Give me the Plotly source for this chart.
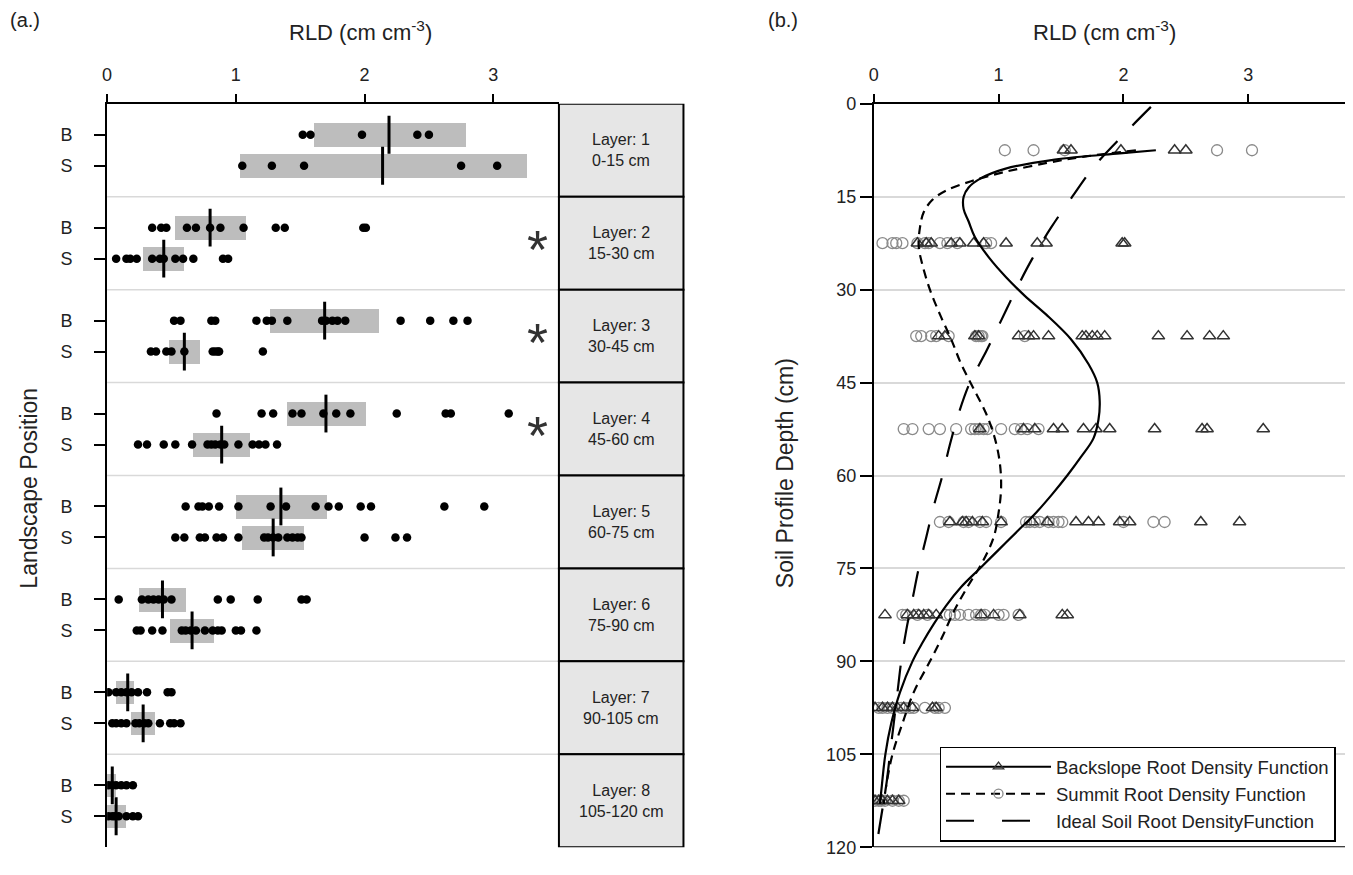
import plotly.graph_objects as go

# page is shown with the browser's default 8px body margin, so the figure is
# sized to fill the remaining window and all screen positions are offset by 8px.
SCREEN_W, SCREEN_H = 1353, 875
OFF = 8
W, H = SCREEN_W - OFF, SCREEN_H - OFF
FONT = "Liberation Sans, Arial, sans-serif"

# ---------------- data ----------------
layer_names = ["Layer: 1", "Layer: 2", "Layer: 3", "Layer: 4",
               "Layer: 5", "Layer: 6", "Layer: 7", "Layer: 8"]
layer_ranges = ["0-15 cm", "15-30 cm", "30-45 cm", "45-60 cm",
                "60-75 cm", "75-90 cm", "90-105 cm", "105-120 cm"]
layer_mid_depth = [7.5, 22.5, 37.5, 52.5, 67.5, 82.5, 97.5, 112.5]
significant_layers = [2, 3, 4]

backslope_rld = [
    [1.52, 1.58, 1.98, 2.41, 2.50],
    [0.35, 0.42, 0.46, 0.62, 0.69, 0.80, 0.88, 1.06, 1.31, 1.38, 1.99, 2.01],
    [0.52, 0.57, 0.81, 0.84, 1.16, 1.24, 1.28, 1.40, 1.67, 1.70, 1.75, 1.79, 1.85, 2.28, 2.51, 2.69, 2.80],
    [0.85, 1.20, 1.29, 1.44, 1.51, 1.68, 1.78, 1.89, 2.25, 2.63, 2.67, 3.12],
    [0.61, 0.71, 0.74, 0.79, 0.87, 1.02, 1.27, 1.39, 1.62, 1.72, 1.80, 1.97, 2.05, 2.62, 2.93],
    [0.09, 0.27, 0.32, 0.36, 0.40, 0.44, 0.50, 0.86, 0.96, 1.17, 1.51, 1.55],
    [0.01, 0.07, 0.11, 0.15, 0.19, 0.24, 0.31, 0.47, 0.50],
    [0.01, 0.04, 0.07, 0.11, 0.15, 0.20],
]
summit_rld = [
    [1.05, 1.28, 1.53, 2.75, 3.03],
    [0.07, 0.15, 0.18, 0.23, 0.35, 0.41, 0.44, 0.53, 0.59, 0.67, 0.90, 0.94],
    [0.34, 0.38, 0.46, 0.50, 0.60, 0.82, 0.84, 0.86, 0.87, 1.21],
    [0.24, 0.31, 0.44, 0.53, 0.66, 0.78, 0.81, 0.84, 0.88, 0.91, 1.02, 1.13, 1.18, 1.23, 1.32],
    [0.53, 0.60, 0.72, 0.76, 0.85, 0.90, 1.02, 1.22, 1.25, 1.29, 1.33, 1.40, 1.44, 1.48, 1.51, 2.00, 2.24, 2.33],
    [0.23, 0.26, 0.35, 0.43, 0.58, 0.61, 0.65, 0.69, 0.76, 0.82, 0.86, 0.89, 1.00, 1.04, 1.16],
    [0.04, 0.07, 0.11, 0.15, 0.22, 0.25, 0.29, 0.32, 0.41, 0.49, 0.52, 0.57],
    [0.01, 0.04, 0.06, 0.09, 0.15, 0.20, 0.24],
]

back_box_low = [1.61, 0.53, 1.27, 1.40, 1.00, 0.25, 0.07, 0.00]
back_box_high = [2.79, 1.08, 2.11, 2.01, 1.71, 0.61, 0.21, 0.07]
back_median = [2.19, 0.80, 1.69, 1.70, 1.35, 0.43, 0.16, 0.04]
summit_box_low = [1.03, 0.28, 0.48, 0.67, 1.05, 0.49, 0.19, 0.00]
summit_box_high = [3.26, 0.60, 0.72, 1.11, 1.53, 0.83, 0.37, 0.15]
summit_median = [2.14, 0.44, 0.60, 0.89, 1.29, 0.66, 0.28, 0.07]

back_fn_depth = [7.5, 8.0, 9.0, 10.5, 12, 13.5, 15, 17, 19, 21.5, 25, 28, 31, 34, 38, 42, 45, 48,
                 51, 54, 57, 60, 63, 66, 69, 72, 75, 78, 81, 84, 87, 90, 95, 100, 105, 110, 113]
back_fn_rld = [2.26, 1.97, 1.45, 1.05, 0.86, 0.76, 0.72, 0.72, 0.76, 0.81, 0.93, 1.06, 1.21, 1.38,
               1.58, 1.72, 1.79, 1.81, 1.80, 1.76, 1.66, 1.55, 1.43, 1.30, 1.15, 1.00, 0.85, 0.70,
               0.58, 0.48, 0.39, 0.31, 0.21, 0.14, 0.093, 0.065, 0.05]

summit_fn_depth = [7.5, 8.5, 9.5, 11, 12.5, 14, 15.5, 17.5, 20, 23, 26, 30, 34, 38, 42, 46, 50, 54,
                   58, 62, 66, 70, 74, 78, 82, 86, 90, 95, 100, 105, 110, 113]
summit_fn_rld = [2.10, 1.70, 1.40, 1.05, 0.78, 0.58, 0.47, 0.40, 0.37, 0.36, 0.39, 0.45, 0.53, 0.62,
                 0.70, 0.80, 0.90, 0.97, 1.01, 1.02, 1.00, 0.96, 0.87, 0.75, 0.64, 0.55, 0.45, 0.32,
                 0.23, 0.15, 0.10, 0.08]

ideal_fn_depth = [0.5, 5, 10, 15, 20, 25, 30, 35, 40, 45, 50, 55, 60, 65, 70, 75, 80, 85, 90, 95,
                  100, 105, 110, 115, 120]
ideal_fn_rld = [2.22, 2.00, 1.77, 1.59, 1.42, 1.27, 1.14, 1.02, 0.90, 0.77, 0.68, 0.61, 0.55, 0.48,
                0.42, 0.36, 0.31, 0.26, 0.22, 0.19, 0.16, 0.13, 0.10, 0.06, 0.02]

depth_ticks = [0, 15, 30, 45, 60, 75, 90, 105, 120]
rld_ticks = [0, 1, 2, 3]

# ---------------- layout helpers (screen pixel -> paper) ----------------
def px(x):
    return (x - OFF) / W

def py(y):
    return 1 - (y - OFF) / H

Y_TOP, Y_BOT = 104, 865
A_X0, A_X1 = 110.5, 564
A_XMAX = 3.51
LBL_X1 = 689
B_X0 = 880
B_XMAX = 3.775

fig = go.Figure()

# ---------------- panel (a) ----------------
n = len(layer_names)
pos_b = [3 * i + 1 for i in range(n)]
pos_s = [3 * i + 2 for i in range(n)]

fig.add_trace(go.Bar(
    orientation="h",
    y=pos_b + pos_s,
    base=back_box_low + summit_box_low,
    x=[h - l for h, l in zip(back_box_high + summit_box_high, back_box_low + summit_box_low)],
    width=0.77,
    marker=dict(color="#bdbdbd", line=dict(width=0)),
    xaxis="x", yaxis="y", showlegend=False, hoverinfo="skip",
))

dot_x, dot_y = [], []
for i in range(n):
    dot_x += backslope_rld[i]
    dot_y += [pos_b[i]] * len(backslope_rld[i])
    dot_x += summit_rld[i]
    dot_y += [pos_s[i]] * len(summit_rld[i])
fig.add_trace(go.Scatter(
    x=dot_x, y=dot_y, mode="markers",
    marker=dict(color="black", size=8.5, symbol="circle"),
    xaxis="x", yaxis="y", showlegend=False,
))

fig.add_trace(go.Scatter(
    x=back_median + summit_median, y=pos_b + pos_s, mode="markers",
    marker=dict(symbol="line-ns", size=27, line=dict(color="black", width=3), color="black"),
    xaxis="x", yaxis="y", showlegend=False,
))

shapes = []
annotations = []
for k in range(1, n):
    shapes.append(dict(type="line", xref="x domain", yref="y", x0=0, x1=1, y0=3 * k, y1=3 * k,
                       line=dict(color="#d9d9d9", width=1.5), layer="below"))
for i in range(n):
    shapes.append(dict(type="rect", xref="paper", yref="y", x0=px(A_X1), x1=px(LBL_X1),
                       y0=3 * i, y1=3 * i + 3, fillcolor="#e6e6e6",
                       line=dict(color="black", width=2)))
    annotations.append(dict(xref="paper", yref="y", x=px((A_X1 + LBL_X1) / 2), y=3 * i + 1.5,
                            xanchor="center", yanchor="middle",
                            text=f"{layer_names[i]}<br>{layer_ranges[i]}", showarrow=False,
                            font=dict(size=16, color="#222", family=FONT), align="center"))
for L in significant_layers:
    annotations.append(dict(xref="paper", yref="y", x=px(542.5), y=3 * (L - 1) + 1.5,
                            xanchor="center", yanchor="middle",
                            text="*", showarrow=False, yshift=-6,
                            font=dict(size=54, color="#333", family=FONT)))

# ---------------- panel (b) ----------------
tri_x, tri_y, cir_x, cir_y = [], [], [], []
for i in range(n):
    tri_x += backslope_rld[i]
    tri_y += [layer_mid_depth[i]] * len(backslope_rld[i])
    cir_x += summit_rld[i]
    cir_y += [layer_mid_depth[i]] * len(summit_rld[i])

fig.add_trace(go.Scatter(
    x=cir_x, y=cir_y, mode="markers",
    marker=dict(symbol="circle-open", size=11, color="#8a8a8a", line=dict(width=1.3)),
    xaxis="x2", yaxis="y2", showlegend=False,
))
fig.add_trace(go.Scatter(
    x=tri_x, y=tri_y, mode="markers",
    marker=dict(symbol="triangle-up-open", size=11, color="#333", line=dict(width=1.5)),
    xaxis="x2", yaxis="y2", showlegend=False,
))

fig.add_trace(go.Scatter(
    x=ideal_fn_rld, y=ideal_fn_depth, mode="lines",
    line=dict(color="black", width=2.2, dash="26px,22px", shape="spline"),
    xaxis="x2", yaxis="y2", showlegend=False,
))
fig.add_trace(go.Scatter(
    x=summit_fn_rld, y=summit_fn_depth, mode="lines",
    line=dict(color="black", width=2.2, dash="9px,6px", shape="spline"),
    xaxis="x2", yaxis="y2", showlegend=False,
))
fig.add_trace(go.Scatter(
    x=back_fn_rld, y=back_fn_depth, mode="lines",
    line=dict(color="black", width=2.2, shape="spline"),
    xaxis="x2", yaxis="y2", showlegend=False,
))

# legend entries
fig.add_trace(go.Scatter(
    x=[None], y=[None], mode="lines+markers", name="Backslope Root Density Function",
    line=dict(color="black", width=2),
    marker=dict(symbol="triangle-up-open", size=9, color="#333", line=dict(width=1.3)),
    xaxis="x2", yaxis="y2",
))
fig.add_trace(go.Scatter(
    x=[None], y=[None], mode="lines+markers", name="Summit Root Density Function",
    line=dict(color="black", width=2, dash="9px,6px"),
    marker=dict(symbol="circle-open", size=9, color="#8a8a8a", line=dict(width=1.3)),
    xaxis="x2", yaxis="y2",
))
fig.add_trace(go.Scatter(
    x=[None], y=[None], mode="lines", name="Ideal Soil Root DensityFunction",
    line=dict(color="black", width=2, dash="28px,28px"),
    xaxis="x2", yaxis="y2",
))

shapes.append(dict(type="line", xref="x2 domain", yref="y2", x0=0, x1=1, y0=120, y1=120,
                   line=dict(color="black", width=2)))

# titles
def label(x, y, text, size, angle=0):
    return dict(xref="paper", yref="paper", x=px(x), y=py(y), text=text, showarrow=False,
                xanchor="center", yanchor="middle", textangle=angle,
                font=dict(size=size, color="#222", family=FONT))

annotations += [
    label(28, 18, "(a.)", 20),
    label(789, 18, "(b.)", 20),
    label(365, 30, "RLD (cm cm<sup>-3</sup>)", 22),
    label(1112, 30, "RLD (cm cm<sup>-3</sup>)", 22),
    label(32, 497, "Landscape Position", 23, -90),
    label(791, 482, "Soil Profile Depth (cm)", 23, -90),
]

tick_font = dict(size=18, color="#222", family=FONT)

fig.update_layout(
    width=W, height=H,
    margin=dict(l=0, r=0, t=0, b=0),
    paper_bgcolor="white", plot_bgcolor="white",
    font=dict(family=FONT, color="#222"),
    bargap=0,
    xaxis=dict(domain=[px(A_X0), px(A_X1)], range=[0, A_XMAX], side="top", anchor="y",
               tickvals=rld_ticks, ticks="outside", ticklen=8, tickwidth=1.5, tickcolor="black",
               ticklabelstandoff=6,
               showline=True, linecolor="black", linewidth=2, showgrid=False, zeroline=False,
               tickfont=tick_font),
    yaxis=dict(domain=[py(Y_BOT), py(Y_TOP)], range=[3 * n, 0], anchor="x",
               tickvals=pos_b + pos_s, ticktext=["B"] * n + ["S"] * n,
               ticks="outside", ticklen=11, tickwidth=1.5, tickcolor="black",
               ticklabelstandoff=18,
               showline=True, linecolor="black", linewidth=2, showgrid=False, zeroline=False,
               tickfont=tick_font),
    xaxis2=dict(domain=[px(B_X0), 1.0], range=[0, B_XMAX], side="top", anchor="y2",
                tickvals=rld_ticks, ticks="outside", ticklen=8, tickwidth=1.5, tickcolor="black",
                ticklabelstandoff=6,
                showline=True, linecolor="black", linewidth=2, showgrid=False, zeroline=False,
                tickfont=tick_font),
    yaxis2=dict(domain=[py(Y_BOT), py(Y_TOP)], range=[120, 0], anchor="x2",
                tickvals=depth_ticks, ticks="outside", ticklen=12, tickwidth=1.5, tickcolor="black",
                ticklabeloverflow="allow",
                showline=True, linecolor="black", linewidth=2, showgrid=True,
                gridcolor="#d9d9d9", gridwidth=1.5, zeroline=False, tickfont=tick_font),
    legend=dict(x=px(946), y=py(762), xanchor="left", yanchor="top",
                bgcolor="white", bordercolor="black", borderwidth=1.5,
                font=dict(size=18.5, color="#222", family=FONT),
                itemwidth=105, tracegroupgap=0),
    shapes=shapes,
    annotations=annotations,
)

fig.write_html("out.html")
